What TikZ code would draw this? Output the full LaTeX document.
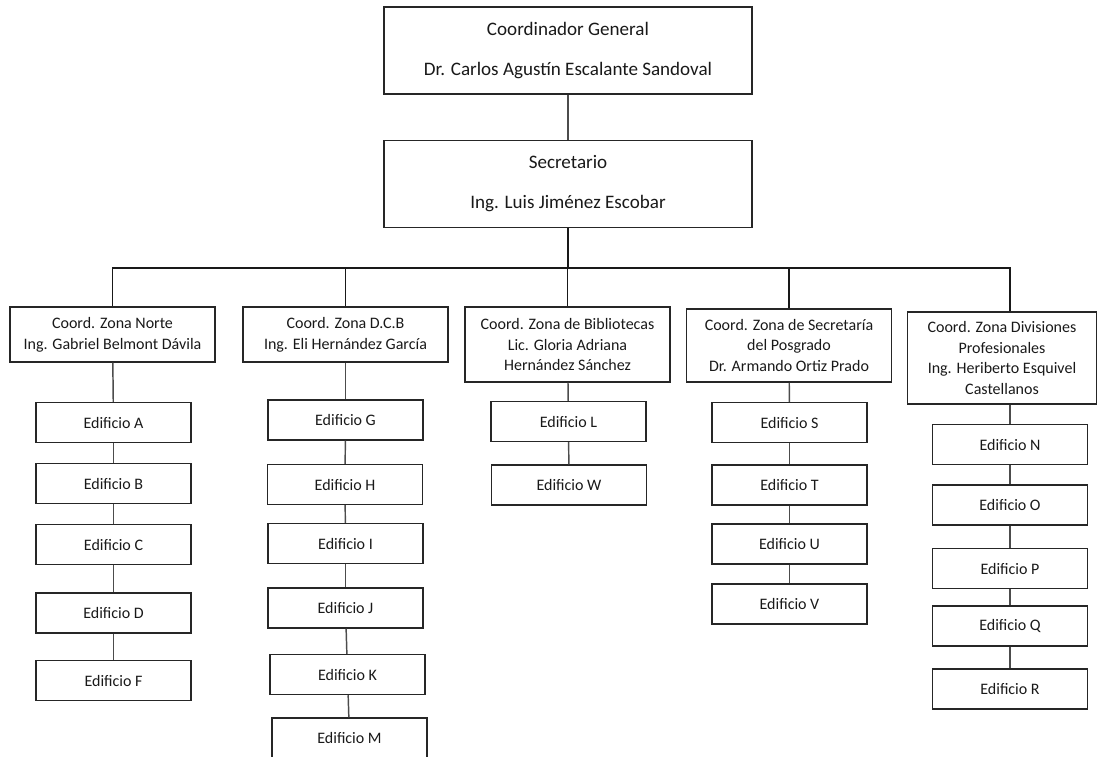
\documentclass[tikz,border=0pt]{standalone}
\usepackage{fontspec}
\setmainfont{Carlito}
\usetikzlibrary{calc}

\begin{document}
\begin{tikzpicture}[x=0.75pt,y=-0.75pt,
  boxstyle/.style={draw=boxcolor,line width=1.1pt,inner sep=0pt,align=center,text=black!90},
  topbox/.style={boxstyle,minimum width=276pt,minimum height=65.5pt,font=\fontsize{14.3}{30}\selectfont},
  zonebox/.style={boxstyle,minimum width=154pt,font=\fontsize{12}{15.5}\selectfont},
  edbox/.style={boxstyle,minimum width=116pt,minimum height=30pt,font=\fontsize{12}{15}\selectfont},
  link/.style={draw=linkcolor,line width=1.1pt},
  busline/.style={draw=black!90,line width=1.1pt}]

\colorlet{boxcolor}{black!85}
\colorlet{linkcolor}{black!70}

\useasboundingbox (0,0) rectangle (1104,757);

% DRAW THE TOP BOXES
\node[topbox] (coord) at (568,50.5) {Coordinador General\\Dr. Carlos Agustín Escalante Sandoval};
\node[topbox] (sec) at (568,184) {Secretario\\Ing. Luis Jiménez Escobar};
\draw[link] (coord) -- (sec);

% DRAW THE ZONE BOXES
\node[zonebox,minimum height=41pt] (norte) at (112.5,334.5) {Coord. Zona Norte\\Ing. Gabriel Belmont Dávila};
\node[zonebox,minimum height=41pt] (dcb) at (345.5,334.5) {Coord. Zona D.C.B\\Ing. Eli Hernández García};
\node[zonebox,minimum height=56pt] (bib) at (567.5,344.5) {Coord. Zona de Bibliotecas\\Lic. Gloria Adriana\\Hernández Sánchez};
\node[zonebox,minimum height=55pt] (pos) at (789,345.5) {Coord. Zona de Secretaría\\del Posgrado\\Dr. Armando Ortiz Prado};
\node[zonebox,minimum height=69pt,minimum width=142pt] (div) at (1002,358) {Coord. Zona Divisiones\\Profesionales\\Ing. Heriberto Esquivel\\Castellanos};

% DRAW THE BUILDINGS
\foreach \name/\px/\py in {A/113.5/422.5, B/113.5/483.5, C/113.5/544.5, D/113.5/613, F/113.5/680.5,
  G/345.5/420, H/345/484.5, I/345.5/543.5, J/345.5/608, K/347.5/674.5, M/349.5/738,
  L/568.5/421.5, W/569/485,
  S/789.5/422.5, T/789.5/485, U/789.5/544, V/789.5/604,
  N/1010/444.5, O/1010/505, P/1010/568.5, Q/1010/626, R/1010/689}
  \node[edbox] (\name) at (\px,\py) {Edificio \name};

% DRAW THE BUS
\coordinate (bus) at (568,268);
\draw[busline] (sec) -- (bus);
\foreach \z in {norte,dcb,bib,pos}
  \draw[busline] (bus) -| (\z);
\draw[busline] (bus) -| (N.north |- div.north);

% DRAW THE CHAINS
\foreach \a/\b in {norte/A, A/B, B/C, C/D, D/F,
  dcb/G, G/H, H/I, I/J, J/K, K/M,
  bib/L, L/W,
  pos/S, S/T, T/U, U/V,
  N/O, O/P, P/Q, Q/R}
  \draw[link] (\a) -- (\b);
\draw[link] (N.north |- div.south) -- (N);

\end{tikzpicture}
\end{document}
